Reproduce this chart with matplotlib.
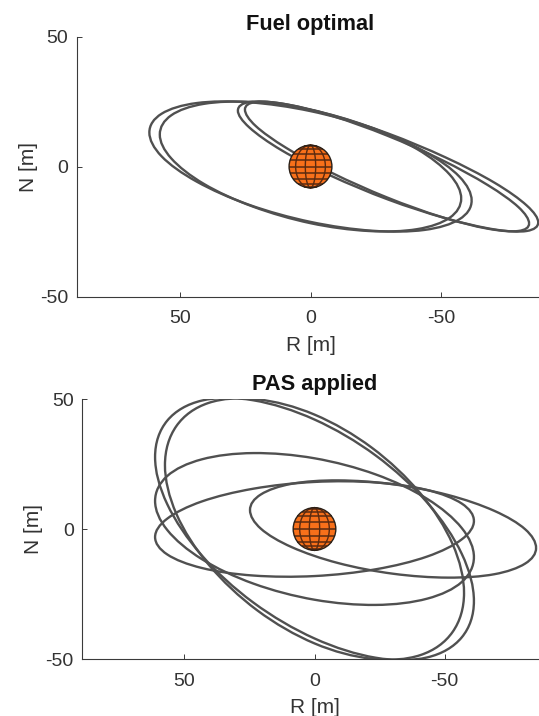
import numpy as np
import matplotlib
matplotlib.use("Agg")
import matplotlib.pyplot as plt
from matplotlib.path import Path
from matplotlib.patches import PathPatch, Circle

plt.rcParams['font.family'] = ['Liberation Sans', 'DejaVu Sans']

TITLES = ["Fuel optimal", "PAS applied"]
X_LABEL = "R [m]"
Y_LABEL = "N [m]"
TICKS = [50, 0, -50]
TICK_LABELS = ["50", "0", "-50"]

# Closed relative-orbit loops: R [m], N [m]
top_a_r = [-61.7,-57.0,-43.6,-23.6,0,23.6,43.6,57.0,61.7,57.0,43.6,23.6,0,-23.6,-43.6,-57.0]
top_a_n = [-13.1,-20.3,-24.4,-24.7,-21.3,-14.7,-5.8,3.9,13.1,20.3,24.4,24.7,21.3,14.7,5.8,-3.9]
top_b_r = [-57.7,-53.3,-40.8,-22.1,0,22.1,40.8,53.3,57.7,53.3,40.8,22.1,0,-22.1,-40.8,-53.3]
top_b_n = [-12.3,-19.7,-24.1,-24.8,-21.8,-15.4,-6.7,3.1,12.3,19.7,24.1,24.8,21.8,15.4,6.7,-3.1]
top_c_r = [-87.2,-82.8,-70.4,-51.7,-29.7,-7.7,11.0,23.4,27.8,23.4,11.0,-7.7,-29.7,-51.7,-70.4,-82.8]
top_c_n = [-21.5,-24.8,-24.2,-19.9,-12.7,-3.5,6.2,15.0,21.5,24.8,24.2,19.9,12.7,3.5,-6.2,-15.0]
top_d_r = [-83.7,-79.6,-67.8,-50.1,-29.3,-8.5,9.2,21.0,25.1,21.0,9.2,-8.5,-29.3,-50.1,-67.8,-79.6]
top_d_n = [-21.9,-24.8,-23.9,-19.4,-11.9,-2.6,7.1,15.6,21.9,24.8,23.9,19.4,11.9,2.6,-7.1,-15.6]

bot_a_r = [-61.3,-56.6,-43.3,-23.5,0,23.5,43.3,56.6,61.3,56.6,43.3,23.5,0,-23.5,-43.3,-56.6]
bot_a_n = [-27.7,-41.7,-49.4,-49.5,-42.1,-28.3,-10.2,9.5,27.7,41.7,49.4,49.5,42.1,28.3,10.2,-9.5]
bot_b_r = [-57.5,-53.1,-40.7,-22.0,0,22.0,40.7,53.1,57.5,53.1,40.7,22.0,0,-22.0,-40.7,-53.1]
bot_b_n = [-24.6,-39.6,-48.5,-49.9,-44.0,-31.3,-13.7,5.8,24.6,39.6,48.5,49.9,44.0,31.3,13.7,-5.8]
bot_c_r = [-61.3,-56.6,-43.3,-23.5,0,23.5,43.3,56.6,61.3,56.6,43.3,23.5,0,-23.5,-43.3,-56.6]
bot_c_n = [-10.8,-20.4,-26.8,-29.2,-27.2,-21.0,-11.6,-0.4,10.8,20.4,26.8,29.2,27.2,21.0,11.6,0.4]
bot_d_r = [-61.3,-56.6,-43.3,-23.5,0,23.5,43.3,56.6,61.3,56.6,43.3,23.5,0,-23.5,-43.3,-56.6]
bot_d_n = [3.1,-4.0,-10.6,-15.5,-18.1,-17.9,-15.0,-9.8,-3.1,4.0,10.6,15.5,18.1,17.9,15.0,9.8]
bot_e_r = [-85.2,-81.0,-69.1,-51.3,-30.2,-9.1,8.7,20.6,24.8,20.6,8.7,-9.1,-30.2,-51.3,-69.1,-81.0]
bot_e_n = [-7.3,-13.3,-17.4,-18.7,-17.2,-13.1,-7.0,0.1,7.3,13.3,17.4,18.7,17.2,13.1,7.0,-0.1]

TOP_LOOPS = [(top_a_r, top_a_n), (top_b_r, top_b_n), (top_c_r, top_c_n), (top_d_r, top_d_n)]
BOT_LOOPS = [(bot_a_r, bot_a_n), (bot_b_r, bot_b_n), (bot_c_r, bot_c_n), (bot_d_r, bot_d_n), (bot_e_r, bot_e_n)]

# Sphere at the origin
sphere_radius = 8.2
sphere_lat = [-72, -54, -36, -18, 0, 18, 36, 54, 72]
sphere_lon = [-44, -14, 14, 44]

W, H = 539, 716
LINE = '#505050'
AXC = '#3a3a3a'
fig = plt.figure(figsize=(W / 100, H / 100), dpi=100)


def smooth_closed(xs, ys):
    """Smooth closed line through the read points (cubic segments)."""
    p = np.column_stack([xs, ys])
    prev, nxt, nxt2 = np.roll(p, 1, 0), np.roll(p, -1, 0), np.roll(p, -2, 0)
    verts = [p[0]]
    codes = [Path.MOVETO]
    for i in range(len(p)):
        verts += [p[i] + (nxt[i] - prev[i]) * 0.1715, nxt[i] - (nxt2[i] - p[i]) * 0.1715, nxt[i]]
        codes += [Path.CURVE4] * 3
    return Path(np.array(verts), codes)


def panel(left, top, right, bottom, xlim, loops, title, pad, xpad, ypad):
    ax = fig.add_axes([left / W, 1 - bottom / H, (right - left) / W, (bottom - top) / H])
    ax.set_xlim(xlim, -xlim)
    ax.set_ylim(-50, 50)
    for r, n in loops:
        ax.add_patch(PathPatch(smooth_closed(r, n), fill=False, ec=LINE, lw=1.7, zorder=2))
    rad = sphere_radius
    ax.add_patch(Circle((0, 0), rad, fc='#f8701a', ec='none', zorder=3))
    g = '#5a2a10'
    for lat in sphere_lat:
        y = rad * np.sin(np.radians(lat))
        w = rad * np.cos(np.radians(lat))
        ax.plot([-w, w], [y, y], color=g, lw=1.1, zorder=4, solid_capstyle='butt')
    th = np.radians(np.arange(-90, 91, 5))
    for lon in sphere_lon:
        ax.plot(rad * np.cos(th) * np.sin(np.radians(lon)), rad * np.sin(th), color=g, lw=1.0, zorder=4)
    ax.add_patch(Circle((0, 0), rad, fc='none', ec='#2a2018', lw=1.0, zorder=5))
    ax.spines['top'].set_visible(False)
    ax.spines['right'].set_visible(False)
    for s in ('left', 'bottom'):
        ax.spines[s].set_color(AXC)
        ax.spines[s].set_linewidth(0.8)
    ax.set_xticks(TICKS)
    ax.set_xticklabels(TICK_LABELS)
    ax.set_yticks(TICKS)
    ax.set_yticklabels(TICK_LABELS)
    ax.tick_params(direction='in', length=3.6, width=0.7, color=AXC, labelcolor='#333333',
                   labelsize=14)
    ax.tick_params(axis='x', pad=10)
    ax.tick_params(axis='y', pad=6)
    ax.set_xlabel(X_LABEL, fontsize=15, color='#333333', labelpad=xpad)
    ax.set_ylabel(Y_LABEL, fontsize=15, color='#333333', labelpad=ypad)
    ax.set_title(title, fontsize=15.7, fontweight='bold', color='#111111', pad=pad)
    return ax


panel(76.5, 36.5, 544.5, 296.5, 89.6, TOP_LOOPS, TITLES[0], 5, 6, 1.5)
panel(82, 399, 547, 659, 89.4, BOT_LOOPS, TITLES[1], 6.5, 5.5, 1.5)
fig.savefig('out.png', dpi=100)
